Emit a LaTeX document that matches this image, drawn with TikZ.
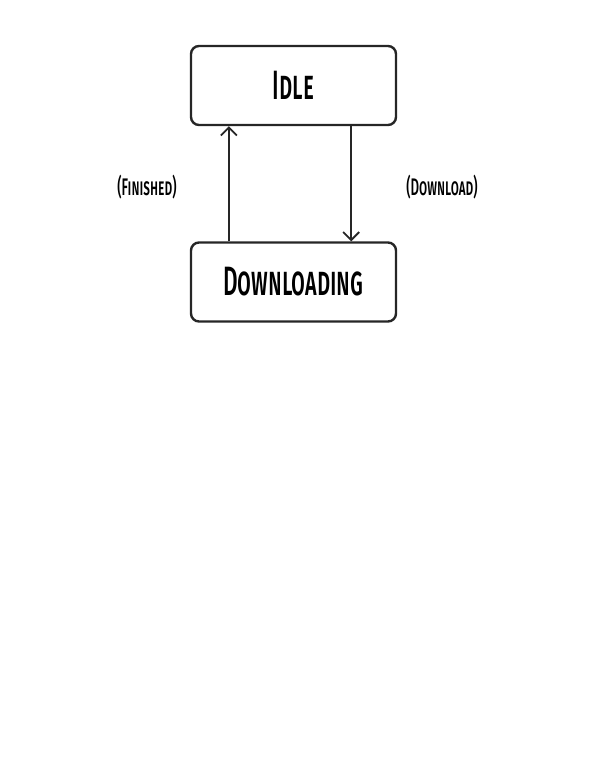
\documentclass[tikz,border=0pt]{standalone}
\usepackage{fontspec}
\usetikzlibrary{arrows.meta}
\newfontfamily\hand[Letters=SmallCaps,FakeStretch=0.55,UprightFont=* Medium,BoldFont=* Bold]{Fira Sans}
\newcommand{\lowered}[1]{\raisebox{-5pt}{#1}}
\begin{document}
\begin{tikzpicture}[x=1pt,y=-1pt,
  statebox/.style={draw=black!85,line width=2.4pt,rounded corners=8pt,minimum width=205pt,minimum height=79pt,inner sep=0pt,font=\hand\fontsize{41}{44}\selectfont},
  edgelabel/.style={font=\hand\fontsize{24}{26}\selectfont},
  trans/.style={draw=black!85,line width=2.2pt,-{Straight Barb[length=8pt,width=16pt,line width=1.8pt]}}]
\useasboundingbox (0,0) rectangle (600,768);
\node[statebox] (idle) at (293.5,85.5) {\lowered{Idle}};
\node[statebox] (down) at (293.5,282) {\lowered{Downloading}};
\draw[trans] (down.south west |- down.north) ++(39,0) coordinate (a1) -- (a1 |- idle.south);
\draw[trans] (idle.south east) ++(-46,0) coordinate (a2) -- (a2 |- down.north);
\node[edgelabel] (lf) at (147,187) {(Finished)};
\node[edgelabel] (ld) at (442,187) {(Download)};
\end{tikzpicture}
\end{document}
